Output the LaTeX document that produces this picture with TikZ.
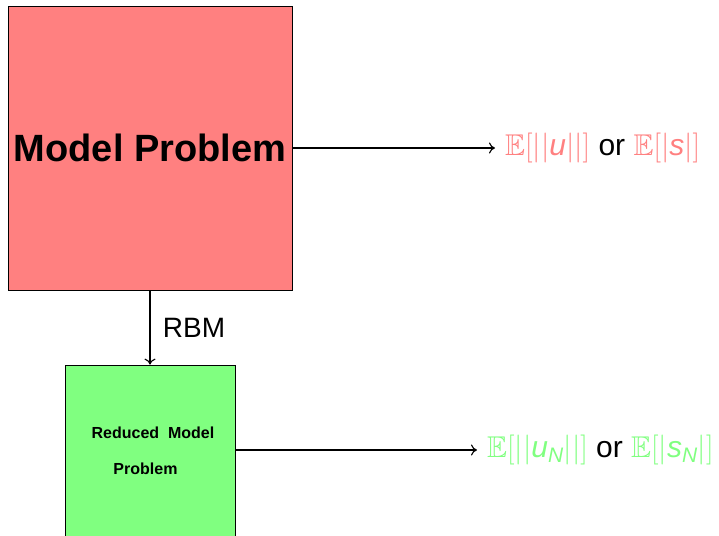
\RequirePackage{fix-cm}
\documentclass[tikz,border=0pt]{standalone}
\usepackage{amsmath,amssymb}
\usepackage{fontspec}
\setmainfont{Liberation Sans}
\usetikzlibrary{arrows.meta}
\definecolor{boxred}{RGB}{255,128,128}
\definecolor{boxgreen}{RGB}{128,255,128}
\begin{document}
\begin{tikzpicture}[x=1pt,y=1pt,
  bigbox/.style={draw=black, line width=0.8pt, inner sep=0pt},
  conn/.style={-{To[length=6pt,width=11pt,line width=1.1pt]}, line width=1.2pt},
  lab/.style={inner sep=0pt, anchor=west, font=\fontsize{30}{36}\selectfont}]
\useasboundingbox (0,0) rectangle (719,535);
\node[bigbox, fill=boxred, minimum width=284, minimum height=284,
  font=\bfseries\fontsize{38}{45}\selectfont] (mp) at (150,387) {Model Problem};
\node[bigbox, fill=boxgreen, minimum width=170, minimum height=172] (rm) at (150,84) {};
\node[font=\bfseries\fontsize{16}{19}\selectfont, inner sep=0pt] (t1) at (153,102) {Reduced~~Model};
\node[font=\bfseries\fontsize{16}{19}\selectfont, inner sep=0pt] (t2) at (145.5,66) {Problem};
\coordinate (e1) at (495,387);
\coordinate (e2) at (477,85);
\draw[conn] (mp.east) -- (e1);
\draw[conn] (mp.south) -- (mp.south |- rm.north) node[midway, right=9pt, font=\fontsize{28}{34}\selectfont] (rbm) {RBM};
\draw[conn] (rm.east |- e2) -- (e2);
\node[lab] (l1) at ([xshift=10pt]e1) {\textcolor{boxred}{$\mathbb{E}[||$\textit{u}$||]$} or \textcolor{boxred}{$\mathbb{E}[|$\textit{s}$|]$}};
\node[lab] (l2) at ([xshift=10pt]e2) {\textcolor{boxgreen}{$\mathbb{E}[||$\textit{u}$_{\textit{N}}||]$} or \textcolor{boxgreen}{$\mathbb{E}[|$\textit{s}$_{\textit{N}}|]$}};
\end{tikzpicture}
\end{document}
